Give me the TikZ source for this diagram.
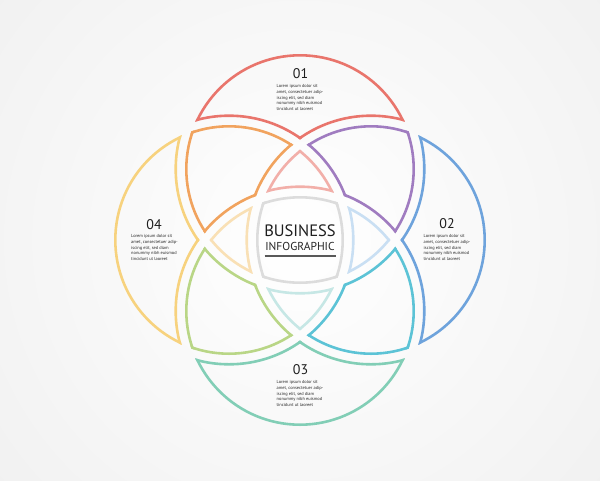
\documentclass[tikz,border=0pt]{standalone}
\usepackage{fontspec}
\setmainfont{PT Sans}
\definecolor{cred}{HTML}{E9756C}
\definecolor{corange}{HTML}{F1A35E}
\definecolor{cyellow}{HTML}{F7D27E}
\definecolor{cgreen}{HTML}{B9D686}
\definecolor{cteal}{HTML}{82CEB6}
\definecolor{ccyan}{HTML}{5CC3D6}
\definecolor{cblue}{HTML}{6EA3DC}
\definecolor{cpurple}{HTML}{A07CC0}
\definecolor{cpink}{HTML}{F2AFA9}
\definecolor{cpeach}{HTML}{F9E0B5}
\definecolor{cmint}{HTML}{C6E7E5}
\definecolor{csky}{HTML}{C9DFF3}
\definecolor{cgrey}{HTML}{DCDCDC}
\def\radi{115pt}
\def\rado{123pt}
\newcommand\clipi[1]{\clip (#1) circle[radius=\radi];}
\newcommand\clipo[1]{\clip (-50,-50) rectangle (650,530) (#1) circle[radius=\rado];}
\newcommand\drwi[2]{\draw[#1,line width=5.2pt] (#2) circle[radius=\radi];}
\newcommand\drwo[2]{\draw[#1,line width=5.2pt] (#2) circle[radius=\rado];}
\newcommand\myregion[5]{%
  \begin{scope}[even odd rule]
    \csname clip#2\endcsname{cT}%
    \csname clip#3\endcsname{cL}%
    \csname clip#4\endcsname{cB}%
    \csname clip#5\endcsname{cR}%
    \csname drw#2\endcsname{#1}{cT}%
    \csname drw#3\endcsname{#1}{cL}%
    \csname drw#4\endcsname{#1}{cB}%
    \csname drw#5\endcsname{#1}{cR}%
  \end{scope}}
\newcommand\loremtext{Lorem ipsum dolor sit\\amet, consectetuer adip-\\iscing elit, sed diam\\nonummy nibh euismod\\tincidunt ut laoreet}
\tikzset{
  numlabel/.style={font=\fontsize{14}{14}\selectfont, text=black!88, inner sep=0pt},
  bodytext/.style={font=\fontsize{4.4}{5.7}\selectfont, text=black!85, align=left, inner sep=0pt, anchor=north}
}
\begin{document}
\begin{tikzpicture}[x=1pt,y=-1pt]
\useasboundingbox (0,0) rectangle (600,480);
\begin{scope}
  \clip (0,0) rectangle (600,480);
  \shade[inner color=white, outer color=black!10] (300,240) circle[radius=720pt];
\end{scope}
\coordinate (cT) at (300,169);
\coordinate (cB) at (300,311);
\coordinate (cL) at (229,240);
\coordinate (cR) at (371,240);
% outer caps
\myregion{cred}{i}{o}{o}{o}
\myregion{cyellow}{o}{i}{o}{o}
\myregion{cteal}{o}{o}{i}{o}
\myregion{cblue}{o}{o}{o}{i}
% lenses
\myregion{corange}{i}{i}{o}{o}
\myregion{cgreen}{o}{i}{i}{o}
\myregion{ccyan}{o}{o}{i}{i}
\myregion{cpurple}{i}{o}{o}{i}
% inner triangles
\myregion{cpink}{i}{i}{o}{i}
\myregion{cpeach}{i}{i}{i}{o}
\myregion{cmint}{o}{i}{i}{i}
\myregion{csky}{i}{o}{i}{i}
% centre
\myregion{cgrey}{i}{i}{i}{i}
% texts
\node[numlabel] (n1) at (300.5,74) {01};
\node[bodytext] (b1) at (300,84.5) {\loremtext};
\node[numlabel] (n2) at (447,224) {02};
\node[bodytext] (b2) at (447,234.5) {\loremtext};
\node[numlabel] (n3) at (300.5,370) {03};
\node[bodytext] (b3) at (300,380.5) {\loremtext};
\node[numlabel] (n4) at (154,225) {04};
\node[bodytext] (b4) at (154.5,234.5) {\loremtext};
\node[font=\fontsize{16.5}{16.5}\selectfont, text=black!88, inner sep=0pt] (bus) at (300,231) {BUSINESS};
\node[font=\fontsize{11.5}{11.5}\selectfont, text=black!85, inner sep=0pt] (info) at (300,246) {INFOGRAPHIC};
\coordinate (ulA) at (264.5,256);
\coordinate (ulB) at (335.5,256);
\draw[black!65, line width=1.3pt] (ulA) -- (ulB);
\end{tikzpicture}
\end{document}
